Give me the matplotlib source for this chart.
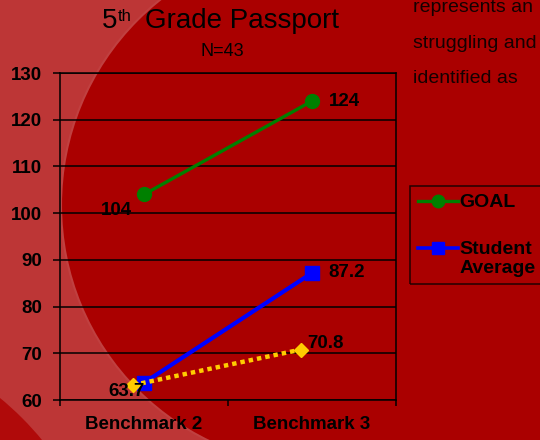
import matplotlib
matplotlib.use("Agg")
import matplotlib.pyplot as plt
from matplotlib.patches import Circle, Rectangle
from matplotlib.lines import Line2D
from matplotlib.legend_handler import HandlerLine2D
from matplotlib.transforms import ScaledTranslation

plt.rcParams["font.family"] = ["Liberation Sans", "DejaVu Sans"]

# data
benchmarks = ["Benchmark 2", "Benchmark 3"]
goal = [104, 124]
student_avg = [63.7, 87.2]
trend = [63.2, 70.8]
legend_labels = ["GOAL", "Student\nAverage"]
note_lines = ["represents an", "struggling and", "identified as"]

DARK = "#AA0000"
LIGHT = "#BD3636"


class TopLineHandler(HandlerLine2D):
    """Put the legend line next to the first row of a two-line label."""

    def create_artists(self, legend, orig_handle, xdescent, ydescent,
                       width, height, fontsize, trans):
        return super().create_artists(legend, orig_handle, xdescent,
                                      ydescent - 1.1 * fontsize, width, height,
                                      fontsize, trans)


fig = plt.figure(figsize=(5.4, 4.4), dpi=100)
fig.patch.set_facecolor(LIGHT)

# background shapes (pixel coords, origin top-left)
bg = fig.add_axes([0, 0, 1, 1], zorder=-10)
bg.set_xlim(0, 540)
bg.set_ylim(440, 0)
bg.set_aspect("equal")
bg.axis("off")
bg.add_patch(Circle((323, 205), 262, facecolor=DARK, edgecolor="#C04040", lw=1.5))
bg.add_patch(Rectangle((323, -10), 230, 460, facecolor=DARK, edgecolor="none"))
bg.add_patch(Circle((-200, 640), 314, facecolor="#B00A0A", edgecolor="none"))

ax = fig.add_axes([60 / 540, 1 - 400 / 440, 336 / 540, 327 / 440])
ax.set_facecolor("none")

x = range(len(benchmarks))
shift = ax.transData + ScaledTranslation(-11 / 100, 0, fig.dpi_scale_trans)

ax.plot(x, goal, color="#008000", lw=2.4, marker="o", ms=10, zorder=3)
ax.plot(x, student_avg, color="#0000FF", lw=3.0, marker="s", ms=10, zorder=3)
ax.plot(x, trend, color="#FFCC00", lw=3.2, dashes=(1.0, 0.9), dash_capstyle="butt",
        marker="D", ms=6.8, transform=shift, zorder=4)

lab = dict(fontsize=13.5, fontweight="bold", color="black", textcoords="offset points",
           va="center", zorder=5)
ax.annotate(f"{goal[0]:g}", (0, goal[0]), xytext=(-8.6, -11.2), ha="right", **lab)
ax.annotate(f"{goal[1]:g}", (1, goal[1]), xytext=(12.2, 0), ha="left", **lab)
ax.annotate(f"{student_avg[0]:g}", (0, student_avg[0]), xytext=(0.7, -6.1), ha="right", **lab)
ax.annotate(f"{student_avg[1]:g}", (1, student_avg[1]), xytext=(11.5, 0), ha="left", **lab)
ax.annotate(f"{trend[1]:g}", (1, trend[1]), xycoords=shift, xytext=(4.3, 4.3), ha="left", **lab)

ax.set_xlim(-0.5, 1.5)
ax.set_ylim(60, 130)
ax.set_yticks(range(60, 131, 10))
ax.set_xticks(list(x))
ax.set_xticklabels(benchmarks)
ax.set_xticks([-0.5, 0.5, 1.5], minor=True)
ax.tick_params(axis="x", which="major", length=0, pad=11.8, labelsize=13.5)
ax.tick_params(axis="x", which="minor", length=4.5, width=1.1, direction="out")
ax.tick_params(axis="y", length=5, width=1.1, pad=8, labelsize=13.5)
for t in ax.get_xticklabels() + ax.get_yticklabels():
    t.set_fontweight("bold")
ax.yaxis.grid(True, color="black", lw=1.1)
ax.set_axisbelow(True)
for s in ax.spines.values():
    s.set_color("black")
    s.set_linewidth(1.1)

# title
fig.text(102 / 540, 1 - 28.5 / 440, "5", fontsize=20, ha="left", va="baseline")
fig.text(118 / 540, 1 - 21 / 440, "th", fontsize=12, ha="left", va="baseline")
fig.text(145 / 540, 1 - 28.5 / 440, "Grade Passport", fontsize=20, ha="left", va="baseline")
fig.text(222 / 540, 1 - 56 / 440, "N=43", fontsize=13, ha="center", va="baseline")

# side note text
for i, line in enumerate(note_lines):
    fig.text(413 / 540, 1 - (12 + 35.5 * i) / 440, line, fontsize=14, color="#140000",
             ha="left", va="baseline")

handles = [
    Line2D([], [], color="#008000", lw=2.4, marker="o", ms=9),
    Line2D([], [], color="#0000FF", lw=2.6, marker="s", ms=9),
]
leg = fig.legend(handles, legend_labels, loc="upper left",
                 bbox_to_anchor=(410 / 540, 1 - 186 / 440), frameon=True,
                 fancybox=False, prop={"weight": "bold", "size": 14},
                 handlelength=2.05, handletextpad=0.1, labelspacing=1.5,
                 borderpad=0.4, borderaxespad=0,
                 handler_map={handles[1]: TopLineHandler()})
for t in leg.get_texts():
    t.set_linespacing(1.15)
leg.get_frame().set_facecolor("none")
leg.get_frame().set_edgecolor("black")
leg.get_frame().set_linewidth(1.1)

fig.savefig("out.png", dpi=100, facecolor=fig.get_facecolor())
